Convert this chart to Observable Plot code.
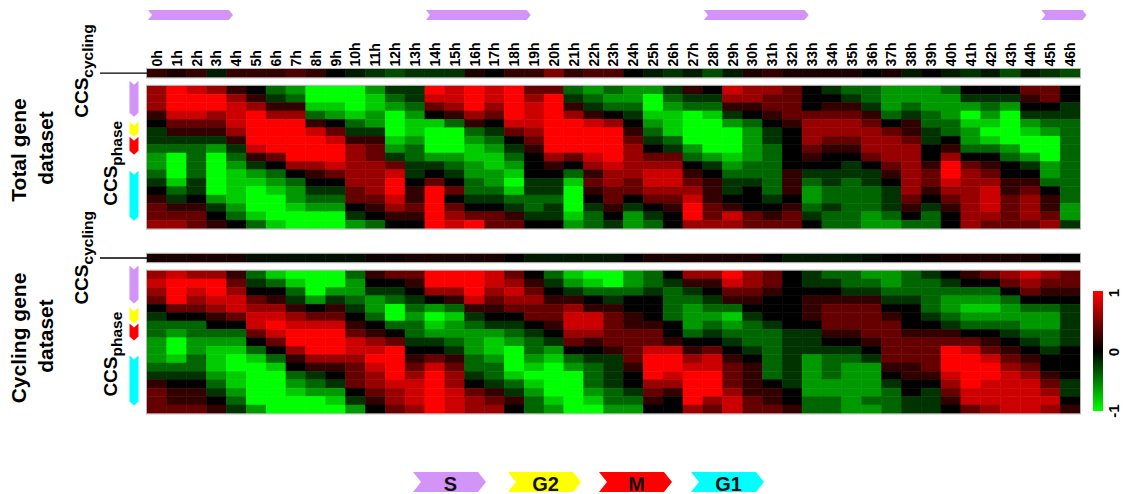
<!DOCTYPE html>
<html><head><meta charset="utf-8">
<script src="https://cdn.jsdelivr.net/npm/d3@7"></script>
<script src="https://cdn.jsdelivr.net/npm/@observablehq/plot@0.6"></script>
<style>body{margin:0;background:#fff;} #chart{width:1125px;height:494px;}</style>
</head><body><div id="chart"></div>
<script>
const hours = ["0h","1h","2h","3h","4h","5h","6h","7h","8h","9h","10h","11h","12h","13h","14h","15h","16h","17h","18h","19h","20h","21h","22h","23h","24h","25h","26h","27h","28h","29h","30h","31h","32h","33h","34h","35h","36h","37h","38h","39h","40h","41h","42h","43h","44h","45h","46h"];

// CCS_cycling strip values (units of 1/5)
const totalCycling = [1,0.5,1,-0.5,1,1,1,1.5,1,0,-0.5,-1,-1.5,-1,-1,-1,0.5,0,1,1,2.5,1,1.5,1.5,0,-0.5,-1,-0.5,-1.5,-0.5,0.5,1,0.5,0.5,0.5,0.5,0,0.5,-0.5,0,-0.5,-1,-0.5,-1.5,-0.5,-1,-1.5];
const cyclingCycling = [0.5,0.5,0.5,0.5,0.5,-0.3,-0.3,-0.3,-0.3,-0.3,-0.3,0.3,0.3,0.5,0.5,0.5,0.5,0.5,0,-0.5,-0.5,-0.5,-0.5,-0.5,0,0.5,0.5,0.5,0.5,0.5,0.5,0,-0.5,-0.5,-0.5,-0.5,-0.3,0,0,0.3,0.5,0.5,0.5,0.5,0.5,0,0];

// CCS_phase values, one array per hour (17 gene groups, units of 1/5)
const totalPhase = [
[3,3,3,1,0,-1,-1,-2,-3,-3,-2,-1,0,1,2,2,3],
[5,5,5,4,2,1,-1,-2,-5,-5,-5,-4,-2,-1,1,2,3],
[4,5,5,4,2,1,-1,-2,-2,-2,-2,-1,-1,0,1,2,2],
[3,5,5,3,2,1,-1,-3,-5,-5,-5,-5,-5,-3,-1,0,1],
[1,3,4,4,4,3,1,-1,-2,-3,-4,-4,-4,-4,-3,-2,0],
[0,1,3,5,5,5,5,4,1,-1,-3,-4,-5,-5,-5,-4,-2],
[-2,-1,1,3,5,5,5,5,2,0,-2,-3,-4,-5,-5,-5,-4],
[-3,-2,1,3,5,5,5,5,5,3,0,-2,-3,-3,-4,-5,-5],
[-5,-5,-4,-2,1,4,5,5,5,3,1,0,-1,-2,-3,-5,-5],
[-5,-5,-4,-3,0,2,4,5,5,4,2,0,-1,-2,-3,-5,-5],
[-5,-5,-5,-4,-2,-1,1,3,3,3,3,3,2,2,0,-1,-3],
[-3,-4,-4,-3,-3,-1,1,2,2,3,3,3,3,2,1,0,-2],
[-1,-2,-3,-5,-5,-5,-4,-3,-1,2,4,5,5,4,3,1,0],
[-1,-1,-2,-3,-4,-4,-3,-2,-2,-1,-1,0,1,1,2,1,0],
[5,4,2,0,-4,-5,-5,-5,-3,-1,0,2,5,5,5,5,5],
[4,4,3,1,-2,-5,-5,-5,-3,-2,-1,0,2,0,2,3,4],
[5,5,5,3,1,-2,-3,-4,-4,-3,-3,-2,-2,-1,0,2,5],
[4,4,3,2,0,-1,-2,-3,-4,-4,-3,-3,-2,-1,0,2,2],
[5,5,5,5,4,2,0,-1,-2,-3,-4,-5,-4,-2,-1,1,2],
[2,3,4,4,4,3,2,1,0,0,0,-1,-1,-2,-2,-1,0],
[2,5,5,5,5,5,5,5,3,1,0,-1,-1,-2,-1,-1,0],
[-2,-1,1,3,5,5,5,5,2,0,-2,-4,-5,-5,-5,-4,-3],
[-3,-2,-1,1,4,5,5,5,4,3,1,2,1,0,-1,-2,-2],
[-2,-3,-2,0,3,5,5,5,5,4,3,3,2,2,1,0,-1],
[-3,-3,-2,-1,0,1,2,3,3,3,3,2,2,0,-1,-3,-3],
[-3,-5,-5,-4,-3,-2,-1,0,2,3,4,4,3,2,0,-1,-2],
[-1,-2,-3,-4,-4,-4,-2,-1,2,3,4,4,3,2,1,0,0],
[1,-1,-2,-5,-5,-5,-5,-3,-2,0,1,2,3,4,5,5,3],
[0,-1,-2,-4,-5,-5,-5,-5,-3,-1,0,1,1,1,2,2,3],
[4,3,1,-1,-3,-5,-5,-5,-4,-3,-2,-1,-1,0,1,4,3],
[3,3,1,0,-2,-3,-3,-3,-3,-2,-2,-1,0,0,0,2,2],
[3,2,2,1,0,-1,-1,-2,-2,-2,-2,-2,-2,-1,0,1,2],
[2,2,2,2,1,0,0,0,0,0,1,1,1,0,1,2,2],
[0,0,0,2,3,3,3,2,1,0,-1,-2,-3,-3,-2,-1,0],
[-1,0,1,2,3,3,2,1,0,0,-1,-1,-2,-2,-1,-2,-2],
[-2,-1,1,2,3,3,2,1,0,-1,-1,-2,-2,-2,-2,-2,-2],
[-2,-2,-1,1,2,3,3,3,2,0,-1,-1,-2,-2,-2,-3,-3],
[-3,-3,-3,-2,0,2,3,3,3,2,1,0,-1,-1,-1,-2,-3],
[-3,-3,-2,-1,1,1,2,3,3,3,3,3,3,2,1,0,-2],
[-3,-3,-3,-2,-2,-1,-1,0,0,1,2,2,1,0,-1,-2,-2],
[-2,-3,-3,-3,-2,-2,0,1,3,5,5,4,3,2,1,0,0],
[0,-1,-3,-5,-4,-3,-3,-2,0,2,3,3,3,3,3,3,3],
[0,-1,-2,-3,-4,-5,-4,-2,0,1,2,3,4,4,4,3,2],
[0,-1,-3,-5,-5,-5,-5,-3,-2,0,0,1,1,2,2,2,2],
[2,1,0,-1,-3,-4,-5,-5,-3,-1,0,1,2,3,3,3,2],
[2,2,0,-1,-2,-3,-5,-5,-5,-3,-3,-2,0,1,1,2,3],
[0,0,-1,-1,-2,-2,-2,-2,-2,-2,-2,-2,-2,-2,-3,-3,-1]
];
const cyclingPhase = [
[3,4,3,2,0,-1,-2,-2,-3,-3,-3,-2,-1,1,2,2,2],
[4,5,5,5,2,0,-2,-3,-5,-5,-4,-2,-1,0,1,1,2],
[3,5,4,3,2,0,-2,-2,-3,-3,-2,-2,-1,0,1,1,2],
[3,5,5,4,3,1,0,-2,-3,-4,-4,-4,-3,-2,-1,0,1],
[1,2,3,4,4,2,0,-2,-3,-4,-5,-5,-4,-4,-3,-2,-1],
[-2,-1,0,2,3,4,4,2,0,-2,-4,-5,-5,-5,-5,-5,-3],
[-4,-2,0,1,3,4,5,4,2,0,-2,-4,-5,-5,-5,-5,-5],
[-5,-4,-2,-1,1,3,4,5,5,3,1,0,-2,-3,-4,-5,-5],
[-5,-5,-5,-3,0,2,4,5,5,5,3,1,-1,-2,-3,-5,-5],
[-5,-5,-3,-1,1,2,4,5,5,5,3,1,0,-1,-3,-4,-5],
[-2,-3,-3,-2,-1,0,1,2,4,4,3,2,2,2,0,-1,-3],
[1,0,-1,-3,-3,-2,0,1,3,4,5,4,3,3,2,1,0],
[2,0,-1,-2,-5,-5,-2,0,2,5,5,5,5,4,3,3,2],
[2,1,0,-1,-2,-3,-2,-2,-1,0,1,2,3,4,4,4,3],
[5,5,3,0,-3,-5,-4,-3,-1,0,2,4,5,5,5,5,5],
[5,5,3,1,-2,-4,-3,-3,-2,-1,1,2,3,3,4,4,4],
[5,5,5,4,1,-1,-2,-3,-3,-3,-2,-2,-1,0,2,3,3],
[4,4,3,2,1,0,-1,-3,-4,-4,-3,-2,-2,-1,1,2,3],
[2,3,4,3,2,0,-1,-2,-3,-5,-5,-5,-4,-2,-1,1,0],
[0,1,2,3,2,2,0,-1,-2,-2,-3,-4,-5,-4,-3,-2,-2],
[-2,-1,0,1,2,2,1,0,-1,-3,-4,-5,-5,-5,-5,-4,-3],
[-4,-3,-1,1,3,4,4,3,2,0,-2,-3,-5,-5,-5,-5,-5],
[-5,-4,-2,0,1,4,4,3,1,0,-1,-2,-2,-2,-3,-4,-5],
[-5,-5,-2,-1,1,2,2,2,2,1,-1,-1,-1,-1,-2,-2,-3],
[-3,-3,-2,0,0,1,1,2,2,2,2,1,0,0,-1,-2,-3],
[-2,-2,-1,0,0,0,1,2,2,4,5,5,5,3,2,1,0],
[0,-1,-2,-2,-2,-2,0,0,1,4,5,5,4,3,1,0,0],
[3,1,-1,-2,-3,-3,-3,-2,0,1,3,4,5,5,5,5,3],
[3,1,0,-1,-2,-3,-2,-1,0,2,4,4,5,5,5,3,2],
[5,4,2,1,-2,-4,-3,-2,-1,0,1,2,2,2,3,4,4],
[3,3,2,1,0,-1,-2,-2,-2,-1,0,1,1,1,1,2,2],
[2,2,1,0,0,0,-1,-2,-2,-2,-2,-2,-2,0,1,1,2],
[0,0,0,0,0,0,0,-1,-1,-1,-1,-1,-1,-1,0,0,1],
[-1,-1,0,1,1,1,0,-1,-1,-1,-3,-3,-3,-3,-3,-2,-2],
[-2,-1,0,1,2,2,2,1,0,-1,-2,-2,-2,-3,-3,-2,-2],
[-2,-2,-1,1,2,2,2,1,0,-1,-2,-3,-3,-3,-3,-3,-3],
[-3,-2,-1,1,2,2,2,2,1,0,-1,-3,-3,-3,-3,-2,-3],
[-3,-3,-2,-1,0,1,2,2,2,2,2,1,0,-1,-2,-2,-2],
[-2,-2,-2,-1,0,0,0,1,2,2,2,1,1,0,0,-1,-1],
[-1,-2,-2,-2,-2,-1,0,1,2,2,2,2,1,0,-1,-1,-1],
[0,-1,-2,-3,-3,-2,-1,1,2,5,5,5,4,3,2,1,0],
[1,0,-2,-3,-4,-3,-2,0,2,4,5,5,5,5,4,4,2],
[2,0,-2,-3,-4,-3,-2,0,1,2,4,5,5,4,4,4,3],
[3,2,0,-2,-3,-3,-2,-1,0,1,2,3,4,4,4,4,4],
[4,3,2,0,-2,-3,-3,-2,-1,0,1,2,3,4,4,4,4],
[3,2,1,0,-2,-3,-3,-2,-2,-1,0,0,1,2,3,4,3],
[2,2,1,0,-1,-1,-1,-1,-1,0,0,0,0,-1,-1,0,1]
];

const phases = ["S","G2","M","G1"];
const phaseColors = ["#d394f7","#ffff00","#ff0000","#00ffff"];
const sPhaseSpans = [["0h","3h"],["14h","18h"],["28h","32h"],["45h","46h"]];
const legendTicks = ["1","0","-1"];

const FONT = "'Liberation Sans', Arial, Helvetica, sans-serif";
const rowsT = d3.range(17).map(i => "T" + i);
const rowsC = d3.range(17).map(i => "C" + i);
const yDomain = ["cycT","sepT",...rowsT,"g1","g2","g3","cycC","sepC",...rowsC];

const cells = [];
hours.forEach((h, i) => {
  cells.push({hour: h, row: "cycT", value: totalCycling[i]});
  cells.push({hour: h, row: "cycC", value: cyclingCycling[i]});
  totalPhase[i].forEach((v, r) => cells.push({hour: h, row: rowsT[r], value: v}));
  cyclingPhase[i].forEach((v, r) => cells.push({hour: h, row: rowsC[r], value: v}));
});

const chart = Plot.plot({
  width: 1125, height: 494,
  marginTop: 69, marginLeft: 147, marginRight: 45, marginBottom: 80.6,
  x: {domain: hours, padding: 0, round: false, axis: "top", tickSize: 0, tickPadding: 3, tickRotate: -90, label: null},
  y: {domain: yDomain, padding: 0, round: false, axis: null},
  color: {type: "linear", domain: [-5, 0, 5], range: ["#00ff00", "#000000", "#ff0000"], interpolate: "rgb", clamp: true},
  style: {fontFamily: FONT, fontSize: "14px", fontWeight: "bold", background: "#fff", color: "#000"},
  marks: [
    Plot.cell(cells, {x: "hour", y: "row", fill: "value", stroke: "value", strokeWidth: 0.5, inset: 0})
  ]
});
document.getElementById("chart").appendChild(chart);

const svg = d3.select(chart);
svg.selectAll("[aria-label='x-axis tick label'] text, g[aria-label='x-axis'] text").style("font-weight", "bold").style("font-size", "14px");
const xs = chart.scale("x"), ys = chart.scale("y");
const xb = xs.apply ? (v => xs.apply(v)) : d3.scaleBand(xs.domain, xs.range);
const yb = ys.apply ? (v => ys.apply(v)) : d3.scaleBand(ys.domain, ys.range);
const bw = xs.bandwidth, bh = ys.bandwidth;
const xL = xb(hours[0]), xR = xb(hours[hours.length - 1]) + bw;

// frames around strips and heatmaps
const g = svg.append("g");
[["cycT","cycT"],[rowsT[0],rowsT[16]],["cycC","cycC"],[rowsC[0],rowsC[16]]].forEach(([a, b]) => {
  g.append("rect").attr("x", xL - 0.5).attr("y", yb(a) - 0.5)
    .attr("width", xR - xL + 1).attr("height", yb(b) + bh - yb(a) + 1)
    .attr("fill", "none").attr("stroke", "#b5b5b5").attr("stroke-width", 1);
});
// connector lines
["cycT","cycC"].forEach(r => {
  g.append("line").attr("x1", 100).attr("x2", xL).attr("y1", yb(r) + bh / 2).attr("y2", yb(r) + bh / 2)
    .attr("stroke", "#000").attr("stroke-width", 1.3);
});

function vtext(x, y, anchor, parts) {
  const t = g.append("text").attr("transform", `translate(${x},${y}) rotate(-90)`)
    .attr("text-anchor", anchor).style("font-family", FONT).style("font-weight", "bold").attr("fill", "#000");
  parts.forEach(p => {
    const s = t.append("tspan").text(p.t).style("font-size", p.s + "px");
    if (p.dy) s.attr("dy", p.dy);
  });
  return t;
}
// dataset labels
vtext(26, 150, "middle", [{t: "Total gene", s: 21}]);
vtext(53, 148, "middle", [{t: "dataset", s: 21}]);
vtext(26, 338, "middle", [{t: "Cycling gene", s: 21}]);
vtext(53, 336, "middle", [{t: "dataset", s: 21}]);
// CCS labels
const topT = yb(rowsT[0]), topC = yb(rowsC[0]);
vtext(88, topT + 32, "start", [{t: "CCS", s: 19}, {t: "cycling", s: 15.5, dy: 5}]);
vtext(117, topT + 120, "start", [{t: "CCS", s: 19}, {t: "phase", s: 15.5, dy: 5}]);
vtext(88, topC + 34, "start", [{t: "CCS", s: 19}, {t: "cycling", s: 15.5, dy: 5}]);
vtext(117, topC + 126, "start", [{t: "CCS", s: 19}, {t: "phase", s: 15.5, dy: 5}]);

function vChevron(x0, x1, y0, y1, n, color) {
  const xm = (x0 + x1) / 2;
  g.append("polygon").attr("points", `${x0},${y0} ${xm},${y0 + n} ${x1},${y0} ${x1},${y1 - n} ${xm},${y1} ${x0},${y1 - n}`)
    .attr("fill", color);
}
function hChevron(x0, x1, y0, y1, n, color) {
  const ym = (y0 + y1) / 2;
  g.append("polygon").attr("points", `${x0},${y0} ${x1 - n},${y0} ${x1},${ym} ${x1 - n},${y1} ${x0},${y1} ${x0 + n},${ym}`)
    .attr("fill", color);
}
// phase bars (offsets from panel top, px)
const barOffsetsT = [[-5, 31], [36, 51], [51, 69], [85, 135]];
const barOffsetsC = [[-5, 33], [37, 53], [53, 70], [85, 135]];
[[topT, barOffsetsT], [topC, barOffsetsC]].forEach(([top, offs]) => {
  offs.forEach(([a, b], i) => vChevron(129.5, 138.5, top + a, top + b, 4, phaseColors[i]));
});
// S phase arrows on top
sPhaseSpans.forEach(([a, b]) => {
  hChevron(xb(a) + 1, xb(b) + bw * 1.33, 10, 20, 4, phaseColors[0]);
});
// bottom legend
const legX = [413, 508, 599, 691], legW = 73;
phases.forEach((p, i) => {
  hChevron(legX[i], legX[i] + legW, 472, 492, 8, phaseColors[i]);
  g.append("text").attr("x", legX[i] + legW / 2 + 1).attr("y", 490.5).attr("text-anchor", "middle")
    .style("font-family", FONT).style("font-weight", "bold").style("font-size", "20px").attr("fill", "#111").text(p);
});
// color legend
const defs = svg.append("defs");
const grad = defs.append("linearGradient").attr("id", "cgrad").attr("x1", 0).attr("x2", 0).attr("y1", 0).attr("y2", 1);
[[0, "#ff0000"], [0.5, "#000000"], [1, "#00ff00"]].forEach(([o, c]) => grad.append("stop").attr("offset", o).attr("stop-color", c));
g.append("rect").attr("x", 1093).attr("y", 291).attr("width", 10).attr("height", 120).attr("fill", "url(#cgrad)");
legendTicks.forEach((t, i) => {
  vtext(1119, 293 + i * 59, "middle", [{t: t, s: 15}]);
});
</script>
</body></html>
